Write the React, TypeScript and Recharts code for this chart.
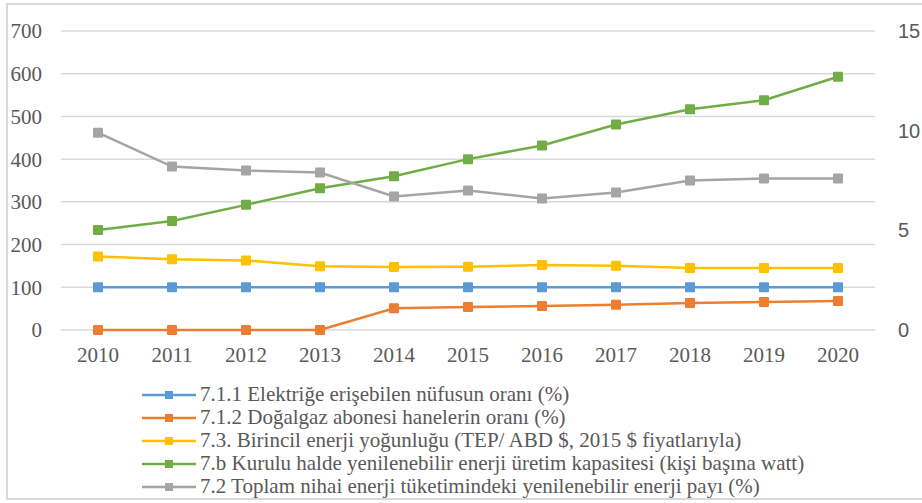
import { LineChart, Line, XAxis, YAxis, CartesianGrid, Legend } from 'recharts';

const years = ['2010', '2011', '2012', '2013', '2014', '2015', '2016', '2017', '2018', '2019', '2020'];
const electricityAccess = [100, 100, 100, 100, 100, 100, 100, 100, 100, 100, 100];
const naturalGasShare = [0, 0, 0, 0, 51, 54, 56, 59, 63, 65.5, 68];
const energyIntensity = [172, 165.5, 163, 149, 147.5, 148, 152, 150.5, 145, 145, 145];
const renewableCapacity = [234, 255, 293, 332, 360, 400, 432, 481, 517, 538, 593];
const renewableShare = [9.9, 8.2, 8.0, 7.9, 6.7, 7.0, 6.6, 6.9, 7.5, 7.6, 7.6];

const leftTicks = [0, 100, 200, 300, 400, 500, 600, 700];
const rightTicks = [0, 5, 10, 15];

const data = years.map((year, i) => ({
  year,
  electricityAccess: electricityAccess[i],
  naturalGasShare: naturalGasShare[i],
  energyIntensity: energyIntensity[i],
  renewableCapacity: renewableCapacity[i],
  renewableShare: renewableShare[i],
}));

const series = [
  { key: 'electricityAccess', axis: 'left', color: '#5B9BD5', name: '7.1.1 Elektriğe erişebilen nüfusun oranı (%)' },
  { key: 'naturalGasShare', axis: 'left', color: '#ED7D31', name: '7.1.2 Doğalgaz abonesi hanelerin oranı (%)' },
  { key: 'energyIntensity', axis: 'left', color: '#FFC000', name: '7.3. Birincil enerji yoğunluğu (TEP/ ABD $, 2015 $ fiyatlarıyla)' },
  { key: 'renewableCapacity', axis: 'left', color: '#70AD47', name: '7.b Kurulu halde yenilenebilir enerji üretim kapasitesi (kişi başına watt)' },
  { key: 'renewableShare', axis: 'right', color: '#A5A5A5', name: '7.2 Toplam nihai enerji tüketimindeki yenilenebilir enerji payı (%)' },
];

const SERIF = 'Liberation Serif';
const SANS = 'Liberation Sans';

function squareDot(color: string) {
  return (props: any) => {
    const { cx, cy, index } = props;
    if (cx == null || cy == null) return <g key={index} />;
    return <rect key={index} x={cx - 5} y={cy - 5} width={10} height={10} rx={1} fill={color} />;
  };
}

// keep the legend in series order (recharts sorts it by name otherwise)
function LegendList() {
  return (
    <div style={{ fontFamily: SERIF, fontSize: 21, color: '#595959' }}>
      {series.map((s) => (
        <div key={s.key} style={{ display: 'flex', alignItems: 'center', height: 23, whiteSpace: 'nowrap' }}>
          <svg width={54} height={10} style={{ flex: 'none' }}>
            <line x1={0} x2={54} y1={5} y2={5} stroke={s.color} strokeWidth={2.5} />
            <rect x={23} y={1} width={8} height={8} fill={s.color} />
          </svg>
          <span style={{ marginLeft: 4 }}>{s.name}</span>
        </div>
      ))}
    </div>
  );
}

export default function App() {
  return (
    <div style={{ position: 'absolute', left: 0, top: 0, width: 922, height: 503, overflow: 'hidden', background: '#fff' }}>
      <div
        style={{
          position: 'absolute',
          left: 6,
          top: 3,
          width: 940,
          height: 497,
          border: '2px solid #d9d9d9',
          boxSizing: 'border-box',
        }}
      />
      <LineChart width={922} height={503} data={data} margin={{ top: 31, right: 0, bottom: 133, left: 0 }}>
        <CartesianGrid yAxisId="left" vertical={false} stroke="#d9d9d9" strokeWidth={1.5} />
        <XAxis
          dataKey="year"
          height={40}
          padding={{ left: 37, right: 37 }}
          axisLine={false}
          tickLine={false}
          tickSize={0}
          tickMargin={17}
          tick={{ fontFamily: SERIF, fontSize: 21, fill: '#595959' }}
        />
        <YAxis
          yAxisId="left"
          width={61}
          domain={[0, 700]}
          ticks={leftTicks}
          axisLine={false}
          tickLine={false}
          tickSize={0}
          tickMargin={19}
          tick={{ fontFamily: SERIF, fontSize: 21, fill: '#595959' }}
        />
        <YAxis
          yAxisId="right"
          orientation="right"
          width={47}
          domain={[0, 15]}
          ticks={rightTicks}
          axisLine={false}
          tickLine={false}
          tickSize={0}
          tickMargin={23}
          tick={{ fontFamily: SANS, fontSize: 20, fill: '#595959' }}
        />
        <Legend
          layout="vertical"
          align="center"
          verticalAlign="middle"
          wrapperStyle={{ left: 142, top: 383, width: 760 }}
          content={<LegendList />}
        />
        {series.map((s) => (
          <Line
            key={s.key}
            yAxisId={s.axis}
            type="linear"
            dataKey={s.key}
            name={s.name}
            stroke={s.color}
            strokeWidth={2.5}
            dot={squareDot(s.color)}
            activeDot={false}
            isAnimationActive={false}
          />
        ))}
      </LineChart>
    </div>
  );
}
